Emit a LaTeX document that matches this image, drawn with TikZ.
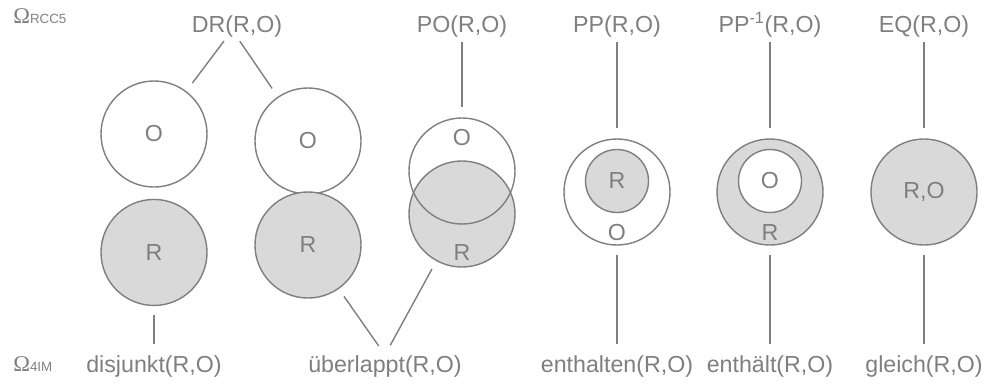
\documentclass[tikz,border=0pt]{standalone}
\usepackage{fontspec}
\setmainfont{Liberation Sans}
\newfontfamily\omegaFont{Liberation Serif}
\usepackage{tikz}
\usetikzlibrary{positioning}
\definecolor{lineGray}{HTML}{7F7F7F}
\definecolor{regionGray}{HTML}{D9D9D9}
\tikzset{Region/.style={%
    shape=circle,%
    draw=lineGray,%
    fill=white,%
    line width=1pt,%
    minimum size=2.65cm,%
    inner sep=0pt,%
    text=lineGray,%
    font=\fontsize{16.5}{20}\selectfont,%
}}
\tikzset{FilledRegion/.style={Region, fill=regionGray}}
\tikzset{OpenRegion/.style={Region, fill=none}}
\tikzset{InnerRegion/.style={minimum size=1.575cm}}
\tikzset{RegionText/.style={%
    inner sep=0pt,%
    text=lineGray,%
    font=\fontsize{16.5}{20}\selectfont,%
}}
\tikzset{RelLabel/.style={RegionText, anchor=base}}
\tikzset{UpEdge/.style={%
    -,
    draw=lineGray,%
    line width=1pt,%
    shorten <=0.125cm,%
    shorten >=0.25cm,%
}}
\tikzset{DownEdge/.style={UpEdge, shorten <=0.225cm, shorten >=0.275cm}}
\NewDocumentCommand{\omegaLabel}{m}{%
    {\omegaFont\fontsize{16}{18}\selectfont Ω}%
    \raisebox{-0.7pt}{\fontsize{9.5}{11}\selectfont #1}%
}

\begin{document}
\begin{tikzpicture}[x=0.025cm, y=-0.025cm]
    \useasboundingbox (0,0) rectangle (984,383);

    % RCC5 relations
    \node[RelLabel, anchor=base west] (omegaTop) at (13,23) {\omegaLabel{RCC5}};
    \node[RelLabel] (dr) at (237,32) {DR(R,O)};
    \node[RelLabel] (po) at (462,32) {PO(R,O)};
    \node[RelLabel] (pp) at (617,32) {PP(R,O)};
    \node[RelLabel] (ppi) at (770,32) {PP\textsuperscript{-1}(R,O)};
    \node[RelLabel] (eq) at (924,32) {EQ(R,O)};

    % regions R and O
    \node[Region] (o1) at (154,134) {O};
    \node[FilledRegion, below=0.275cm of o1] (r1) {R};
    \node[Region] (o2) at (308,141) {O};
    \node[FilledRegion] (r2) at (308,245) {R};
    \node[FilledRegion] (r3) at (462,214) {};
    \node[OpenRegion] (o3) at (462,171) {};
    \node[RegionText] (o3Text) at (462,138) {O};
    \node[RegionText] (r3Text) at (462,253) {R};
    \node[Region] (ppOuter) at (617,192) {};
    \node[FilledRegion, InnerRegion] (ppInner) at (617,181) {R};
    \node[RegionText] (ppText) at (617,233) {O};
    \node[FilledRegion] (ppiOuter) at (770,192) {};
    \node[Region, InnerRegion] (ppiInner) at (770,181) {O};
    \node[RegionText] (ppiText) at (770,233) {R};
    \node[FilledRegion] (eqRegion) at (924,192) {R,O};

    % 4IM relations
    \node[RelLabel, anchor=base west] (omegaBottom) at (13,371) {\omegaLabel{4IM}};
    \node[RelLabel] (dis) at (154,372) {disjunkt(R,O)};
    \node[RelLabel] (ue) at (385,372) {überlappt(R,O)};
    \node[RelLabel] (enth) at (617,372) {enthalten(R,O)};
    \node[RelLabel] (enthaelt) at (770,372) {enthält(R,O)};
    \node[RelLabel] (gleich) at (924,372) {gleich(R,O)};

    \draw[UpEdge] ([xshift=-0.25cm]dr.south) -- (o1);
    \draw[UpEdge] (dr.south) -- (o2);
    \draw[UpEdge] (po) -- (o3);
    \draw[UpEdge] (pp) -- (ppOuter);
    \draw[UpEdge] (ppi) -- (ppiOuter);
    \draw[UpEdge] (eq) -- (eqRegion);

    \draw[DownEdge] (r1) -- (dis);
    \draw[DownEdge] (r2) -- (ue.north);
    \draw[DownEdge] (r3) -- (ue.north);
    \draw[DownEdge] (ppOuter) -- (enth);
    \draw[DownEdge] (ppiOuter) -- (enthaelt);
    \draw[DownEdge] (eqRegion) -- (gleich);
\end{tikzpicture}
\end{document}
